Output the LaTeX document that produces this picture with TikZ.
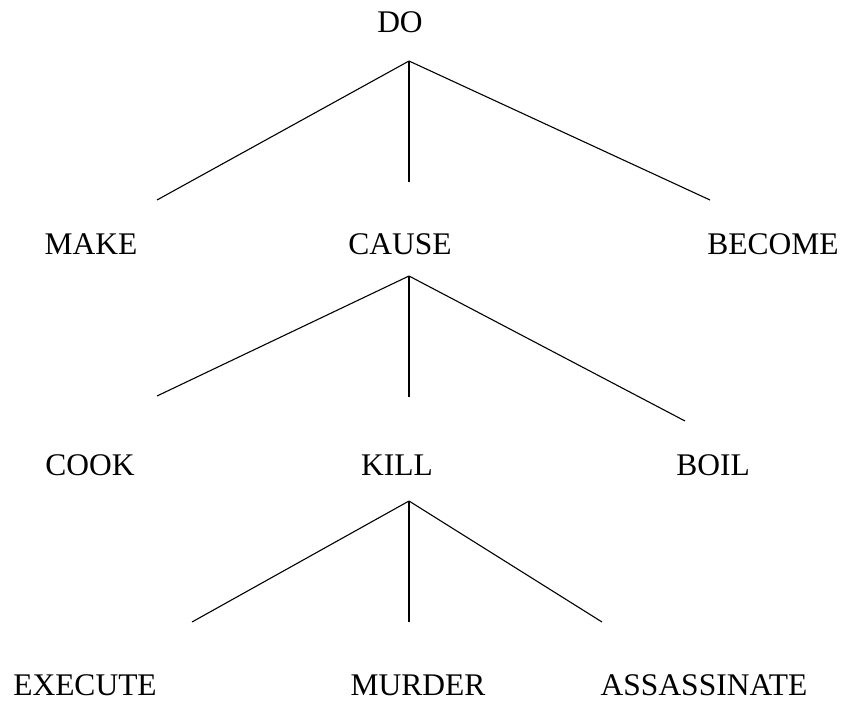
\documentclass[tikz,border=0pt]{standalone}
\usepackage{fontspec}
\setmainfont{Liberation Serif}

\begin{document}
\begin{tikzpicture}[x=1pt, y=-1pt,
    word/.style={anchor=base, inner sep=0pt, font=\fontsize{31.5}{36}\selectfont},
    branch/.style={line width=1.1pt, black}]
    % Fix the page size
    \useasboundingbox (0,0) rectangle (844,701);

    % Define rows (baselines)
    \def\rowA{33}
    \def\rowB{254}
    \def\rowC{475}
    \def\rowD{695}

    % Words
    \node[word] (do) at (400,\rowA) {DO};
    \node[word] (make) at (91,\rowB) {MAKE};
    \node[word] (cause) at (400,\rowB) {CAUSE};
    \node[word] (become) at (773,\rowB) {BECOME};
    \node[word] (cook) at (90,\rowC) {COOK};
    \node[word] (kill) at (397,\rowC) {KILL};
    \node[word] (boil) at (713,\rowC) {BOIL};
    \node[word] (execute) at (85,\rowD) {EXECUTE};
    \node[word] (murder) at (418,\rowD) {MURDER};
    \node[word] (assassinate) at (704,\rowD) {ASSASSINATE};

    % Define coordinates for the branches
    \coordinate (do-root) at (409,61);
    \coordinate (make-top) at (157,200);
    \coordinate (cause-top) at (409,182);
    \coordinate (become-top) at (710,200);
    \coordinate (cause-root) at (409,276);
    \coordinate (cook-top) at (157,396);
    \coordinate (kill-top) at (409,397);
    \coordinate (boil-top) at (685,421);
    \coordinate (kill-root) at (409,501);
    \coordinate (execute-top) at (192,622);
    \coordinate (murder-top) at (409,622);
    \coordinate (assassinate-top) at (602,622);

    % Draw the branches
    \foreach \parent/\child in {do/make, do/cause, do/become,
                                cause/cook, cause/kill, cause/boil,
                                kill/execute, kill/murder, kill/assassinate}
        \draw[branch] (\parent-root) -- (\child-top);

\end{tikzpicture}
\end{document}
